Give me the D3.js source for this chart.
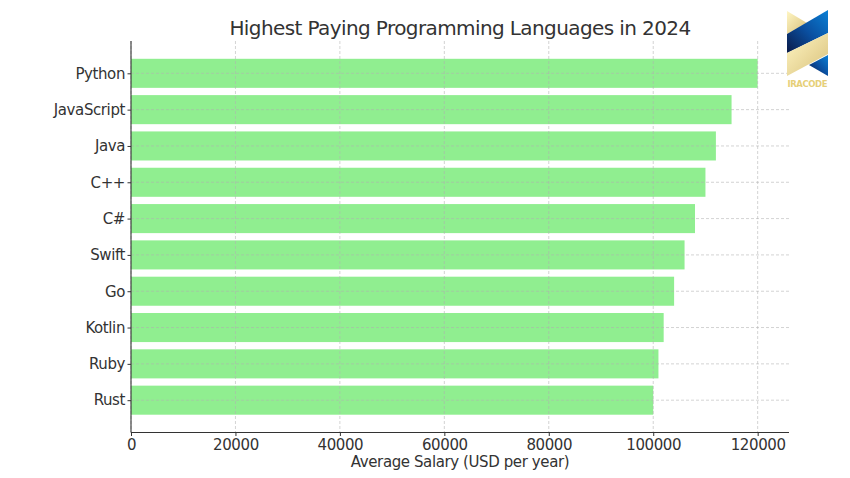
<!DOCTYPE html>
<html><head><meta charset="utf-8">
<script src="https://cdn.jsdelivr.net/npm/d3@7"></script>
<style>body{margin:0;background:#fff;} svg{display:block;font-family:"DejaVu Sans",sans-serif;}</style>
</head><body><svg id="c" width="850" height="478"></svg>
<script>
const languages = ["Python","JavaScript","Java","C++","C#","Swift","Go","Kotlin","Ruby","Rust"];
const salaries = [120000,115000,112000,110000,108000,106000,104000,102000,101000,100000];
const xTicks = [0,20000,40000,60000,80000,100000,120000];

const svg = d3.select("#c");
const m = {l:131, r:789, t:41, b:432.5};
const x = d3.scaleLinear().domain([0,126000]).range([m.l,m.r]);
const n = languages.length;
const span = (n-1) + 0.8;
const lo = -0.4 - span*0.05, hi = (n-1) + 0.4 + span*0.05;
const yi = d3.scaleLinear().domain([lo,hi]).range([m.t,m.b]);
const txt = "#333";
const fs = 15, ls = "-0.4px";

// bars
svg.append("g").selectAll("rect").data(languages).join("rect")
  .attr("x", x(0)).attr("y",(d,i)=>yi(i-0.4))
  .attr("width",(d,i)=>x(salaries[i])-x(0))
  .attr("height",(d,i)=>yi(i+0.4)-yi(i-0.4))
  .attr("fill","#90EE90");

// grid
const g = svg.append("g").attr("stroke","#b0b0b0").attr("stroke-opacity",0.7)
  .attr("stroke-width",0.8).attr("stroke-dasharray","3,2");
g.selectAll("line.v").data(xTicks).join("line").attr("class","v")
  .attr("x1",d=>x(d)).attr("x2",d=>x(d)).attr("y1",m.t).attr("y2",m.b);
g.selectAll("line.h").data(languages).join("line").attr("class","h")
  .attr("x1",m.l).attr("x2",m.r).attr("y1",(d,i)=>yi(i)).attr("y2",(d,i)=>yi(i));

// axes
const xAxis = d3.axisBottom(x).tickValues(xTicks).tickFormat(d3.format("d")).tickSize(3.5).tickPadding(3.5);
const xa = svg.append("g").attr("transform",`translate(0,${m.b})`).call(xAxis);
xa.select(".domain").attr("stroke","#333").attr("stroke-width",1.1).attr("d",`M${m.l},0H${m.r}`);
xa.selectAll(".tick line").attr("stroke","#333");
xa.selectAll("text").attr("fill",txt).attr("font-size",fs).attr("letter-spacing",ls).attr("font-family","DejaVu Sans");

const yAxis = d3.axisLeft(yi).tickValues(d3.range(n)).tickFormat(i=>languages[i]).tickSize(3.5).tickPadding(2.5);
const ya = svg.append("g").attr("transform",`translate(${m.l},0)`).call(yAxis);
ya.select(".domain").attr("stroke","#333").attr("stroke-width",1.1).attr("d",`M0,${m.t}V${m.b}`);
ya.selectAll(".tick line").attr("stroke","#333");
ya.selectAll("text").attr("fill",txt).attr("font-size",fs).attr("letter-spacing",ls).attr("font-family","DejaVu Sans");

// labels
svg.append("text").attr("x",(m.l+m.r)/2).attr("y",35).attr("text-anchor","middle")
  .attr("font-size",20).attr("letter-spacing","-0.6px").attr("fill",txt).text("Highest Paying Programming Languages in 2024");
svg.append("text").attr("x",(m.l+m.r)/2).attr("y",467).attr("text-anchor","middle")
  .attr("font-size",fs).attr("letter-spacing",ls).attr("fill",txt).text("Average Salary (USD per year)");

// logo
const defs = svg.append("defs");
const gold = defs.append("linearGradient").attr("id","gold").attr("x1","0").attr("y1","0").attr("x2","1").attr("y2","1");
gold.append("stop").attr("offset","0").attr("stop-color","#fff6c4");
gold.append("stop").attr("offset","1").attr("stop-color","#d8c07a");
const blue = defs.append("linearGradient").attr("id","blue").attr("x1","0").attr("y1","1").attr("x2","1").attr("y2","0");
blue.append("stop").attr("offset","0").attr("stop-color","#0b1a48");
blue.append("stop").attr("offset","0.5").attr("stop-color","#0a4fa0");
blue.append("stop").attr("offset","1").attr("stop-color","#0a80d6");
const L = svg.append("g").attr("transform","translate(787,9)");
L.append("path").attr("d","M0,2 L20,14 L0,25 Z").attr("fill","url(#gold)");
L.append("path").attr("d","M0,25 L41,1 L41,24 L0,44 Z").attr("fill","url(#blue)");
L.append("path").attr("d","M0,44 L41,24 L41,45 L0,67 Z").attr("fill","url(#gold)");
L.append("path").attr("d","M22,56 L41,46 L41,67 Z").attr("fill","url(#blue)");
L.append("text").attr("x",20.5).attr("y",78).attr("text-anchor","middle").attr("font-size",8.5)
  .attr("font-weight","bold").attr("fill","#e6cf78").attr("textLength",40).text("IRACODE");
</script></body></html>
